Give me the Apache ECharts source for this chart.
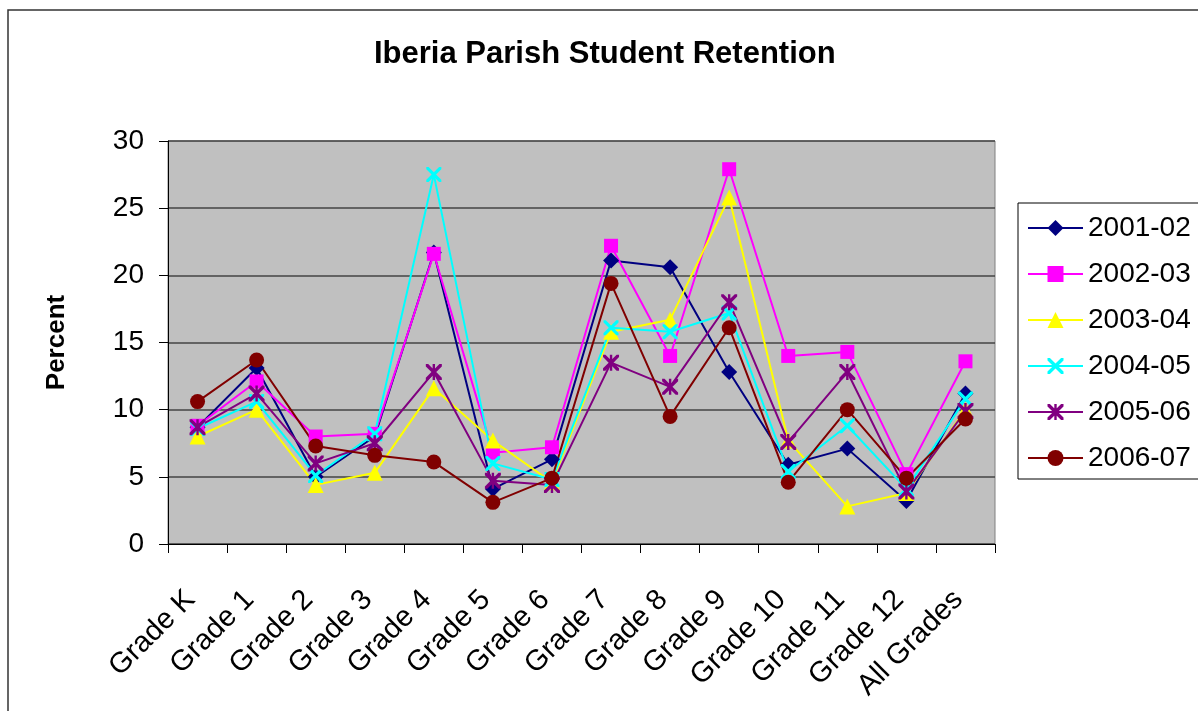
<!DOCTYPE html>
<html>
<head>
<meta charset="utf-8">
<title>Iberia Parish Student Retention</title>
<script src="https://cdn.jsdelivr.net/npm/echarts/dist/echarts.min.js"></script>
<style>
html,body{margin:0;padding:0;background:#fff;}
#main_chart{width:1198px;height:711px;}
</style>
</head>
<body>
<div id="main_chart"></div>
<script>
// 类别 (x轴)
var grades = ['Grade K','Grade 1','Grade 2','Grade 3','Grade 4','Grade 5','Grade 6','Grade 7','Grade 8','Grade 9','Grade 10','Grade 11','Grade 12','All Grades'];
var yTicks = [0, 5, 10, 15, 20, 25, 30];

// 每学年的留级率(%)
var years = ['2001-02','2002-03','2003-04','2004-05','2005-06','2006-07'];
var y2001_02 = [8.7, 13.1, 5.0, 8.0, 21.7, 4.1, 6.3, 21.1, 20.6, 12.8, 5.9, 7.1, 3.2, 11.2];
var y2002_03 = [8.8, 12.1, 8.0, 8.2, 21.6, 6.8, 7.2, 22.2, 14.0, 27.9, 14.0, 14.3, 5.2, 13.6];
var y2003_04 = [8.0, 10.0, 4.4, 5.3, 11.6, 7.7, 4.6, 15.8, 16.7, 25.8, 7.7, 2.8, 3.8, 10.0];
var y2004_05 = [8.6, 10.6, 5.1, 8.2, 27.5, 6.0, 4.8, 16.1, 15.8, 17.2, 5.4, 8.8, 4.1, 10.8];
var y2005_06 = [8.7, 11.2, 6.0, 7.5, 12.8, 4.7, 4.4, 13.5, 11.7, 18.0, 7.6, 12.8, 3.9, 9.9];
var y2006_07 = [10.6, 13.7, 7.3, 6.6, 6.1, 3.1, 4.9, 19.4, 9.5, 16.1, 4.6, 10.0, 4.9, 9.3];

var FONT = 'Arial, "Liberation Sans", sans-serif';

// X 和 星号 的标记
var xMark = 'path://M0,0 L3,0 L10,7 L17,0 L20,0 L20,3 L13,10 L20,17 L20,20 L17,20 L10,13 L3,20 L0,20 L0,17 L7,10 L0,3 Z';
var starMark = xMark.replace(' Z', ' Z M8.5,0 L11.5,0 L11.5,20 L8.5,20 Z');

var seriesStyle = [
	{data: y2001_02, color: '#000080', symbol: 'diamond', size: 16},
	{data: y2002_03, color: '#FF00FF', symbol: 'rect', size: 14},
	{data: y2003_04, color: '#FFFF00', symbol: 'triangle', size: 16},
	{data: y2004_05, color: '#00FFFF', symbol: xMark, size: 15},
	{data: y2005_06, color: '#800080', symbol: starMark, size: 16},
	{data: y2006_07, color: '#800000', symbol: 'circle', size: 15}
];

function makeSeries(){
	var mySeries = [];
	for(var i=0;i<years.length;i++){
		var s = seriesStyle[i];
		mySeries.push({
			name: years[i],
			type: 'line',
			data: s.data,
			symbol: s.symbol,
			symbolSize: s.size,
			showAllSymbol: true,
			color: s.color,
			lineStyle: {color: s.color, width: 2},
			itemStyle: {color: s.color},
			emphasis: {disabled: true},
			animation: false
		});
	}
	return mySeries;
}

var myChart = echarts.init(document.getElementById('main_chart'));
var option = {
	backgroundColor: '#fff',
	animation: false,
	title: {
		text: 'Iberia Parish Student Retention',
		left: 374,
		top: 39,
		padding: 0,
		textStyle: {fontFamily: FONT, fontSize: 31, fontWeight: 'bold', color: '#000'}
	},
	graphic: [{
		type: 'rect',
		shape: {x: 8, y: 10, width: 1400, height: 900},
		style: {fill: 'none', stroke: '#333', lineWidth: 1.5},
		silent: true
	}],
	legend: {
		orient: 'vertical',
		left: 1018,
		top: 203,
		data: years,
		itemWidth: 55,
		itemHeight: 20,
		itemGap: 18,
		padding: [11, 30, 7, 9],
		backgroundColor: '#fff',
		borderColor: '#000',
		borderWidth: 1,
		textStyle: {fontFamily: FONT, fontSize: 28, color: '#000', lineHeight: 28}
	},
	grid: {
		left: 168,
		right: 203,
		top: 141,
		bottom: 167,
		show: true,
		backgroundColor: '#C0C0C0',
		borderColor: '#808080',
		borderWidth: 1
	},
	xAxis: {
		type: 'category',
		data: grades,
		boundaryGap: true,
		axisLine: {lineStyle: {color: '#000', width: 1}},
		axisTick: {show: true, length: 9, interval: 0, lineStyle: {color: '#000'}},
		axisLabel: {
			interval: 0,
			rotate: 45,
			margin: 44,
			padding: [0, 10, 0, 0],
			fontFamily: FONT,
			fontSize: 29,
			color: '#000'
		},
		splitLine: {show: false}
	},
	yAxis: {
		type: 'value',
		min: yTicks[0],
		max: yTicks[yTicks.length-1],
		interval: 5,
		name: 'Percent',
		nameLocation: 'middle',
		nameRotate: 90,
		nameGap: 98,
		nameTextStyle: {fontFamily: FONT, fontSize: 26, fontWeight: 'bold', color: '#000'},
		axisLine: {show: true, lineStyle: {color: '#000', width: 1}},
		axisTick: {show: true, length: 9, lineStyle: {color: '#000'}},
		axisLabel: {margin: 24, fontFamily: FONT, fontSize: 28, color: '#000'},
		splitLine: {show: true, lineStyle: {color: '#444', width: 1.5}}
	},
	series: makeSeries()
};
myChart.setOption(option);
</script>
</body>
</html>
